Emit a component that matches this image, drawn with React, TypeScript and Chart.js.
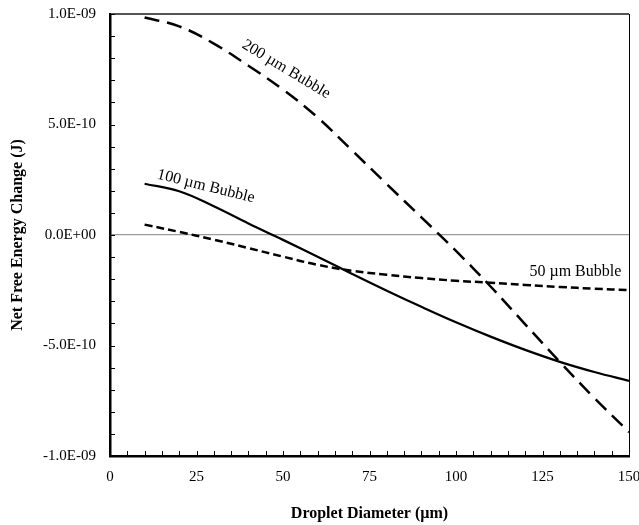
import React, { useEffect, useRef } from 'react';
import { Chart, registerables } from 'chart.js';

Chart.register(...registerables);

// Droplet diameter (µm)
const diameters = [10, 20, 30, 40, 50, 60, 70, 80, 90, 100, 110, 120, 130, 140, 150];

// Net free energy change (J)
const bubble200 = [9.84e-10, 9.44e-10, 8.66e-10, 7.66e-10, 6.58e-10, 5.32e-10, 3.82e-10, 2.3e-10, 0.8e-10, -0.72e-10, -2.33e-10, -4.04e-10, -5.74e-10, -7.38e-10, -8.92e-10];
const bubble100 = [2.32e-10, 1.98e-10, 1.3e-10, 0.52e-10, -0.22e-10, -0.98e-10, -1.76e-10, -2.52e-10, -3.25e-10, -3.95e-10, -4.6e-10, -5.2e-10, -5.74e-10, -6.2e-10, -6.6e-10];
const bubble50 = [0.47e-10, 0.14e-10, -0.21e-10, -0.59e-10, -0.98e-10, -1.35e-10, -1.62e-10, -1.8e-10, -1.95e-10, -2.07e-10, -2.16e-10, -2.26e-10, -2.35e-10, -2.43e-10, -2.49e-10];

const seriesNames = ['200 µm Bubble', '100 µm Bubble', '50 µm Bubble'];

// Axis ranges and ticks
const X_MIN = 0;
const X_MAX = 150;
const X_STEP = 25;
const X_MINOR = 5;
const Y_MIN = -1e-9;
const Y_MAX = 1e-9;
const Y_STEP = 5e-10;
const Y_MINOR = 1e-10;

// Curve labels, anchored in data coordinates
const curveLabels = [
  { text: seriesNames[0], x: 50.9, y: 7.5e-10, angle: 31 },
  { text: seriesNames[1], x: 27.7, y: 2.2e-10, angle: 14 },
  { text: seriesNames[2], x: 134.5, y: -1.68e-10, angle: 0 },
];

const FONT = '"Liberation Serif", "Times New Roman", serif';

function fmtExp(v: number): string {
  if (Math.abs(v) < 1e-20) v = 0;
  const s = v.toExponential(1);
  const [m, e] = s.split('e');
  const sign = e[0] === '-' ? '-' : '+';
  const d = e.replace(/^[+-]/, '').padStart(2, '0');
  return `${m}E${sign}${d}`;
}

const insideTicks = {
  id: 'insideTicks',
  afterDraw(chart: any) {
    const { ctx, chartArea, scales } = chart;
    const xs = scales.x;
    const ys = scales.y;
    ctx.save();
    ctx.strokeStyle = '#000';
    ctx.lineWidth = 1;
    ctx.beginPath();
    const nx = Math.round((X_MAX - X_MIN) / X_MINOR);
    for (let i = 0; i <= nx; i++) {
      const px = Math.round(xs.getPixelForValue(X_MIN + i * X_MINOR)) + 0.5;
      ctx.moveTo(px, chartArea.bottom);
      ctx.lineTo(px, chartArea.bottom - 5);
    }
    const ny = Math.round((Y_MAX - Y_MIN) / Y_MINOR);
    for (let i = 0; i <= ny; i++) {
      const py = Math.round(ys.getPixelForValue(Y_MIN + i * Y_MINOR)) + 0.5;
      ctx.moveTo(chartArea.left, py);
      ctx.lineTo(chartArea.left + 5, py);
    }
    ctx.stroke();
    ctx.restore();
  },
};

const curveLabelPlugin = {
  id: 'curveLabels',
  afterDraw(chart: any) {
    const { ctx, scales } = chart;
    ctx.save();
    ctx.fillStyle = '#000';
    ctx.font = `16px ${FONT}`;
    ctx.textAlign = 'center';
    ctx.textBaseline = 'middle';
    for (const l of curveLabels) {
      const px = scales.x.getPixelForValue(l.x);
      const py = scales.y.getPixelForValue(l.y);
      ctx.save();
      ctx.translate(px, py);
      ctx.rotate((l.angle * Math.PI) / 180);
      ctx.fillText(l.text, 0, 0);
      ctx.restore();
    }
    ctx.restore();
  },
};

export default function App() {
  const ref = useRef<HTMLCanvasElement>(null);

  useEffect(() => {
    const toPoints = (ys: number[]) => diameters.map((x, i) => ({ x, y: ys[i] }));
    const chart = new Chart(ref.current as HTMLCanvasElement, {
      type: 'line',
      data: {
        datasets: [
          {
            label: seriesNames[0],
            data: toPoints(bubble200),
            borderColor: '#000',
            borderWidth: 2.5,
            borderDash: [15, 8],
            tension: 0.4,
            pointRadius: 0,
            fill: false,
          },
          {
            label: seriesNames[1],
            data: toPoints(bubble100),
            borderColor: '#000',
            borderWidth: 2.25,
            tension: 0.4,
            pointRadius: 0,
            fill: false,
          },
          {
            label: seriesNames[2],
            data: toPoints(bubble50),
            borderColor: '#000',
            borderWidth: 2.5,
            borderDash: [8, 4],
            tension: 0.4,
            pointRadius: 0,
            fill: false,
          },
        ],
      },
      options: {
        responsive: false,
        animation: false,
        layout: { padding: { left: 0, right: 10, top: 14, bottom: 0 } },
        plugins: {
          legend: { display: false },
          tooltip: { enabled: false },
        },
        scales: {
          x: {
            type: 'linear',
            min: X_MIN,
            max: X_MAX,
            afterFit: (s: any) => {
              s.height = 69;
              s.paddingLeft = 0;
              s.paddingRight = 0;
            },
            ticks: {
              stepSize: X_STEP,
              color: '#000',
              maxRotation: 0,
              padding: 12,
              font: { family: FONT, size: 15 },
            },
            grid: {
              drawTicks: false,
              color: (c: any) => (c.tick && c.tick.value === X_MAX ? '#000' : 'rgba(0,0,0,0)'),
              lineWidth: 1,
            },
            border: { display: true, color: '#000', width: 2.5 },
            title: {
              display: true,
              text: 'Droplet Diameter (µm)',
              color: '#000',
              font: { family: FONT, size: 16, weight: 'bold' },
              padding: { top: 0, bottom: 2 },
            },
          },
          y: {
            type: 'linear',
            min: Y_MIN,
            max: Y_MAX,
            afterFit: (s: any) => {
              s.width = 110;
              s.paddingTop = 0;
              s.paddingBottom = 0;
            },
            ticks: {
              stepSize: Y_STEP,
              color: '#000',
              padding: 14,
              font: { family: FONT, size: 15 },
              callback: (v: any) => fmtExp(Number(v)),
            },
            grid: {
              drawTicks: false,
              color: (c: any) => {
                if (!c.tick) return 'rgba(0,0,0,0)';
                const v = c.tick.value;
                if (Math.abs(v) < 1e-20) return '#9a9a9a';
                if (Math.abs(v - Y_MAX) < 1e-20) return '#555';
                return 'rgba(0,0,0,0)';
              },
              lineWidth: (c: any) => (c.tick && Math.abs(c.tick.value - Y_MAX) < 1e-20 ? 2 : 1.25),
            },
            border: { display: true, color: '#000', width: 2.5 },
            title: {
              display: true,
              text: 'Net Free Energy Change (J)',
              color: '#000',
              font: { family: FONT, size: 16, weight: 'bold' },
              padding: { top: 8, bottom: 0 },
            },
          },
        },
      } as any,
      plugins: [insideTicks, curveLabelPlugin],
    });
    return () => chart.destroy();
  }, []);

  return (
    <div style={{ position: 'absolute', left: 0, top: 0, width: 639, height: 525, background: '#fff' }}>
      <canvas ref={ref} width={639} height={525} style={{ display: 'block' }} />
    </div>
  );
}
